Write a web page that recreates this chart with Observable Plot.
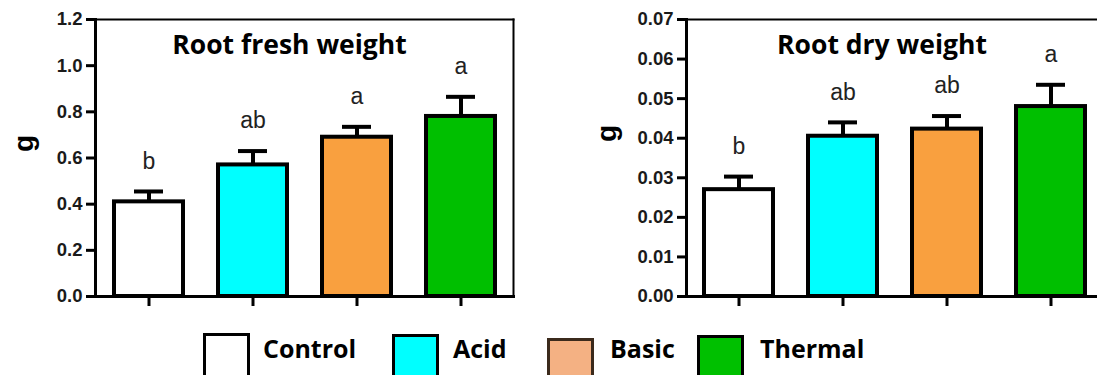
<!DOCTYPE html>
<html>
<head>
<meta charset="utf-8">
<script src="https://cdn.jsdelivr.net/npm/d3@7"></script>
<script src="https://cdn.jsdelivr.net/npm/@observablehq/plot@0.6"></script>
<style>
  html, body { margin: 0; padding: 0; background: #fff; }
  body { width: 1097px; height: 375px; overflow: hidden; position: relative; font-family: "Liberation Sans", Arial, sans-serif; }
  .chart { position: absolute; top: 0; width: 560px; height: 320px; }
  .chart svg { max-width: none !important; height: 320px !important; }
  .swatch { position: absolute; width: 41px; height: 44px; border: 3px solid #000; box-sizing: content-box; }
  .ltext { position: absolute; font-family: "Open Sans", sans-serif; font-weight: bold; font-size: 25px; color: #000; line-height: 1; }
  g[aria-label="y-axis tick label"] { font-size: 18.5px !important; font-weight: bold !important; }
</style>
</head>
<body>
<div id="left" class="chart" style="left:0px"></div>
<div id="right" class="chart" style="left:560px"></div>
<div id="legend"></div>
<script>
const categories = ["Control", "Acid", "Basic", "Thermal"];
const barColors = ["#ffffff", "#00ffff", "#f9a03f", "#00bf00"];
const legendColors = ["#ffffff", "#00ffff", "#f4b183", "#00c000"];
const legendBorders = ["#000000", "#000000", "#3b2a1c", "#000000"];

const freshMeans = [0.41, 0.57, 0.69, 0.78];
const freshErrors = [0.045, 0.06, 0.045, 0.085];
const freshLetters = ["b", "ab", "a", "a"];
const freshTicks = [0, 0.2, 0.4, 0.6, 0.8, 1.0, 1.2];

const dryMeans = [0.027, 0.0405, 0.0423, 0.048];
const dryErrors = [0.0033, 0.0035, 0.0033, 0.0055];
const dryLetters = ["b", "ab", "ab", "a"];
const dryTicks = [0, 0.01, 0.02, 0.03, 0.04, 0.05, 0.06, 0.07];

function chart({width, ml, mr, title, titleDx, means, errors, letters, domain, ticks, fmt, gDx, gDy}) {
  const data = categories.map((c, i) => ({c, v: means[i], top: means[i] + errors[i], l: letters[i]}));
  return Plot.plot({
    width, height: 320,
    marginLeft: ml, marginRight: mr, marginTop: 19, marginBottom: 24,
    style: {background: "transparent", overflow: "visible", fontFamily: "Liberation Sans, Arial, sans-serif"},
    x: {domain: categories, paddingInner: 0.34, paddingOuter: 0.17, axis: null},
    y: {domain, axis: null},
    color: {domain: categories, range: barColors},
    marks: [
      Plot.frame({anchor: "top", strokeWidth: 2}),
      Plot.frame({anchor: "right", strokeWidth: 2}),
      Plot.ruleX(data, {x: "c", y1: "v", y2: "top", strokeWidth: 4}),
      Plot.tickY(data, {x: "c", y: "top", strokeWidth: 4, insetLeft: 20, insetRight: 20}),
      Plot.barY(data, {x: "c", y: "v", fill: "c", stroke: "black", strokeWidth: 4}),
      Plot.axisY({ticks, tickFormat: fmt, tickSize: 9, tickPadding: 4, strokeWidth: 3, fontSize: 18.5, fontWeight: "bold", label: null, fill: "#1a1a1a"}),
      Plot.axisX({tickSize: 10, tickFormat: () => "", strokeWidth: 3, label: null}),
      Plot.frame({anchor: "left", strokeWidth: 3}),
      Plot.frame({anchor: "bottom", strokeWidth: 3}),
      Plot.text(data, {x: "c", y: "top", text: "l", dy: -30, fontSize: 23, fill: "#222", lineAnchor: "middle"}),
      Plot.text([title], {frameAnchor: "top", dy: 26, dx: titleDx, fontSize: 26.5, fontWeight: "bold", fontFamily: "Open Sans", lineAnchor: "middle", fill: "#000"}),
      Plot.text(["g"], {frameAnchor: "left", rotate: -90, dx: gDx, dy: gDy, fontSize: 28, fontWeight: "bold", lineAnchor: "middle", fill: "#000"})
    ]
  });
}

document.getElementById("left").append(chart({
  width: 540, ml: 95, mr: 27, title: "Root fresh weight", titleDx: -15,
  means: freshMeans, errors: freshErrors, letters: freshLetters,
  domain: [0, 1.2], ticks: freshTicks, fmt: d3.format(".1f"), gDx: -71, gDy: -6
}));
document.getElementById("right").append(chart({
  width: 560, ml: 126, mr: 17, title: "Root dry weight", titleDx: -13,
  means: dryMeans, errors: dryErrors, letters: dryLetters,
  domain: [0, 0.07], ticks: dryTicks, fmt: d3.format(".2f"), gDx: -79, gDy: -16
}));

// legend
const legendSwatchX = [203, 392, 547, 697];
const legendSwatchY = [333, 334, 338, 335];
const legendTextX = [263, 453, 610, 760];
const legend = document.getElementById("legend");
categories.forEach((c, i) => {
  const sw = document.createElement("div");
  sw.className = "swatch";
  sw.style.left = legendSwatchX[i] + "px";
  sw.style.top = legendSwatchY[i] + "px";
  sw.style.background = legendColors[i];
  sw.style.borderColor = legendBorders[i];
  legend.append(sw);
  const t = document.createElement("div");
  t.className = "ltext";
  t.style.left = legendTextX[i] + "px";
  t.style.top = "336px";
  t.textContent = c;
  legend.append(t);
});
</script>
</body>
</html>
